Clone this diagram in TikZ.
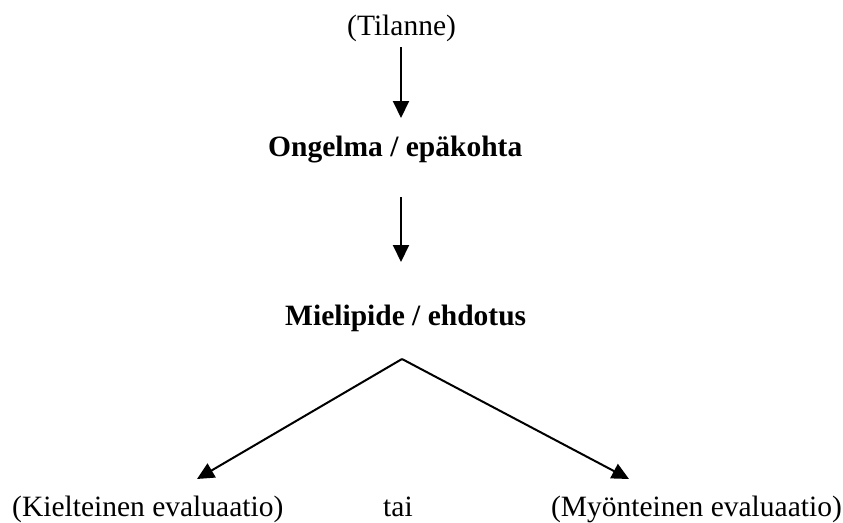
\documentclass[tikz,border=0pt]{standalone}
\usepackage{fontspec}
\setmainfont{Liberation Serif}
\usetikzlibrary{arrows.meta}
\begin{document}
\begin{tikzpicture}[x=1pt,y=-1pt,
  txt/.style={inner sep=0pt,anchor=base west,font=\fontsize{29.5}{35}\selectfont},
  btxt/.style={txt,font=\fontsize{29.5}{35}\selectfont\bfseries},
  arr/.style={line width=2pt,-{Triangle[width=16pt,length=17pt]}}]
\useasboundingbox (0,0) rectangle (843,522);
\node[txt] (tilanne) at (347,35) {(Tilanne)};
\node[btxt] (ongelma) at (268,156) {Ongelma / epäkohta};
\node[btxt] (mielipide) at (285,325) {Mielipide / ehdotus};
\node[txt] (kiel) at (12,516) {(Kielteinen evaluaatio)};
\node[txt] (tai) at (383,516) {tai};
\node[txt,anchor=base east] (myon) at (842,516) {(Myönteinen evaluaatio)};
\coordinate (a1s) at (401,47);
\coordinate (a1e) at (401,118);
\coordinate (a2s) at (401,197);
\coordinate (a2e) at (401,262);
\coordinate (apex) at (402,359);
\coordinate (lt) at (197,479);
\coordinate (rt) at (629,479);
\draw[arr] (a1s) -- (a1e);
\draw[arr] (a2s) -- (a2e);
\draw[arr] (apex) -- (lt);
\draw[arr] (apex) -- (rt);
\end{tikzpicture}
\end{document}
